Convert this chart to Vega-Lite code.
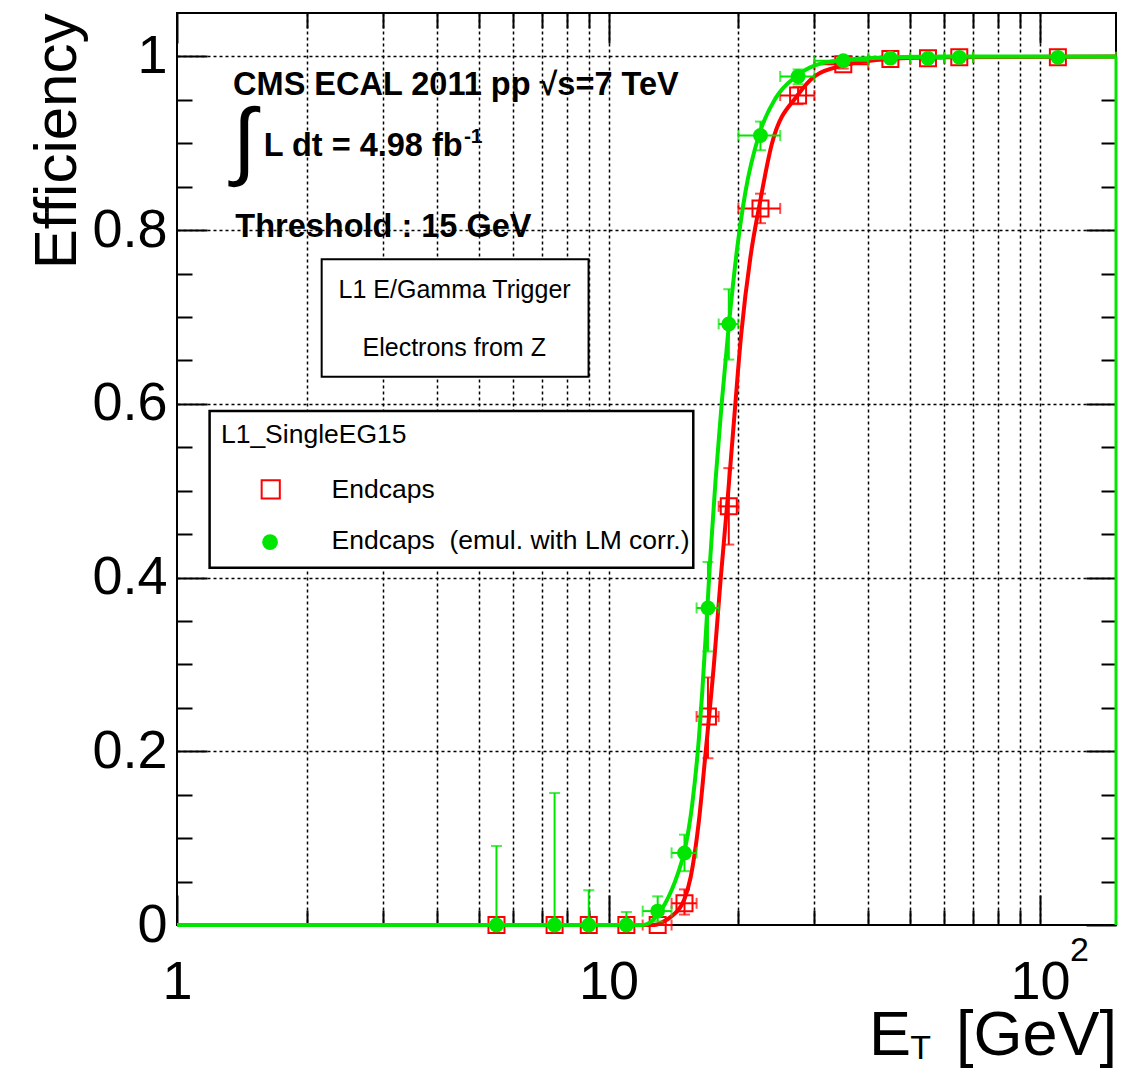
{
  "$schema": "https://vega.github.io/schema/vega-lite/v6.json",
  "width": 939,
  "height": 912,
  "autosize": {"type": "none"},
  "padding": {"left": 177, "top": 13, "right": 5, "bottom": 145},
  "background": "white",
  "config": {"view": {"stroke": "black", "strokeWidth": 2}, "font": "Liberation Sans"},
  "resolve": {"axis": {"x": "independent", "y": "independent"}},
  "datasets": {
    "pts": [
      {"s": "Endcaps", "et": 5.5, "eff": 0, "lo": 0, "hi": 0, "etLo": 5.5, "etHi": 5.5},
      {"s": "Endcaps", "et": 7.5, "eff": 0, "lo": 0, "hi": 0, "etLo": 7.5, "etHi": 7.5},
      {"s": "Endcaps", "et": 9, "eff": 0, "lo": 0, "hi": 0, "etLo": 9, "etHi": 9},
      {"s": "Endcaps", "et": 11, "eff": 0, "lo": 0, "hi": 0, "etLo": 11, "etHi": 11},
      {"s": "Endcaps", "et": 13, "eff": 0, "lo": 0, "hi": 0, "etLo": 12, "etHi": 14},
      {"s": "Endcaps", "et": 15, "eff": 0.025, "lo": 0.012, "hi": 0.041, "etLo": 14, "etHi": 16},
      {"s": "Endcaps", "et": 17, "eff": 0.24, "lo": 0.192, "hi": 0.285, "etLo": 16, "etHi": 18},
      {"s": "Endcaps", "et": 19, "eff": 0.482, "lo": 0.438, "hi": 0.526, "etLo": 18, "etHi": 20},
      {"s": "Endcaps", "et": 22.5, "eff": 0.825, "lo": 0.808, "hi": 0.842, "etLo": 20, "etHi": 25},
      {"s": "Endcaps", "et": 27.5, "eff": 0.955, "lo": 0.945, "hi": 0.965, "etLo": 25, "etHi": 30},
      {"s": "Endcaps", "et": 35, "eff": 0.991, "lo": 0.986, "hi": 0.995, "etLo": 30, "etHi": 40},
      {"s": "Endcaps", "et": 45, "eff": 0.997, "lo": 0.994, "hi": 0.999, "etLo": 40, "etHi": 50},
      {"s": "Endcaps", "et": 55, "eff": 0.998, "lo": 0.996, "hi": 0.999, "etLo": 50, "etHi": 60},
      {"s": "Endcaps", "et": 65, "eff": 0.999, "lo": 0.997, "hi": 1.0, "etLo": 60, "etHi": 70},
      {"s": "Endcaps", "et": 110, "eff": 0.999, "lo": 0.997, "hi": 1.0, "etLo": 70, "etHi": 150},
      {"s": "Emul", "et": 5.5, "eff": 0, "lo": 0, "hi": 0.091, "etLo": 5.5, "etHi": 5.5},
      {"s": "Emul", "et": 7.5, "eff": 0, "lo": 0, "hi": 0.152, "etLo": 7.5, "etHi": 7.5},
      {"s": "Emul", "et": 9, "eff": 0, "lo": 0, "hi": 0.04, "etLo": 9, "etHi": 9},
      {"s": "Emul", "et": 11, "eff": 0, "lo": 0, "hi": 0.015, "etLo": 11, "etHi": 11},
      {"s": "Emul", "et": 13, "eff": 0.016, "lo": 0.004, "hi": 0.033, "etLo": 12, "etHi": 14},
      {"s": "Emul", "et": 15, "eff": 0.083, "lo": 0.062, "hi": 0.104, "etLo": 14, "etHi": 16},
      {"s": "Emul", "et": 17, "eff": 0.365, "lo": 0.315, "hi": 0.418, "etLo": 16, "etHi": 18},
      {"s": "Emul", "et": 19, "eff": 0.692, "lo": 0.651, "hi": 0.732, "etLo": 18, "etHi": 20},
      {"s": "Emul", "et": 22.5, "eff": 0.909, "lo": 0.892, "hi": 0.925, "etLo": 20, "etHi": 25},
      {"s": "Emul", "et": 27.5, "eff": 0.977, "lo": 0.968, "hi": 0.985, "etLo": 25, "etHi": 30},
      {"s": "Emul", "et": 35, "eff": 0.995, "lo": 0.991, "hi": 0.998, "etLo": 30, "etHi": 40},
      {"s": "Emul", "et": 45, "eff": 0.998, "lo": 0.996, "hi": 1.0, "etLo": 40, "etHi": 50},
      {"s": "Emul", "et": 55, "eff": 0.998, "lo": 0.996, "hi": 1.0, "etLo": 50, "etHi": 60},
      {"s": "Emul", "et": 65, "eff": 0.999, "lo": 0.997, "hi": 1.0, "etLo": 60, "etHi": 70},
      {"s": "Emul", "et": 110, "eff": 0.999, "lo": 0.997, "hi": 1.0, "etLo": 70, "etHi": 150}
    ],
    "curves": [
      {"s": "Endcaps", "et": 1, "eff": 0},
      {"s": "Endcaps", "et": 12.8, "eff": 0},
      {"s": "Endcaps", "et": 13.3, "eff": 0.003},
      {"s": "Endcaps", "et": 14, "eff": 0.01},
      {"s": "Endcaps", "et": 15, "eff": 0.03},
      {"s": "Endcaps", "et": 15.5, "eff": 0.055},
      {"s": "Endcaps", "et": 16.2, "eff": 0.12},
      {"s": "Endcaps", "et": 16.8, "eff": 0.2},
      {"s": "Endcaps", "et": 17.55, "eff": 0.3},
      {"s": "Endcaps", "et": 18.19, "eff": 0.398},
      {"s": "Endcaps", "et": 18.88, "eff": 0.49},
      {"s": "Endcaps", "et": 19.53, "eff": 0.58},
      {"s": "Endcaps", "et": 20.3, "eff": 0.68},
      {"s": "Endcaps", "et": 21.34, "eff": 0.77},
      {"s": "Endcaps", "et": 22.4, "eff": 0.83},
      {"s": "Endcaps", "et": 23.93, "eff": 0.9},
      {"s": "Endcaps", "et": 27.4, "eff": 0.955},
      {"s": "Endcaps", "et": 30.2, "eff": 0.978},
      {"s": "Endcaps", "et": 35.3, "eff": 0.99},
      {"s": "Endcaps", "et": 45, "eff": 0.997},
      {"s": "Endcaps", "et": 60, "eff": 0.999},
      {"s": "Endcaps", "et": 150, "eff": 1},
      {"s": "Emul", "et": 1, "eff": 0},
      {"s": "Emul", "et": 12, "eff": 0},
      {"s": "Emul", "et": 12.5, "eff": 0.003},
      {"s": "Emul", "et": 13, "eff": 0.012},
      {"s": "Emul", "et": 13.5, "eff": 0.024},
      {"s": "Emul", "et": 14, "eff": 0.04},
      {"s": "Emul", "et": 14.5, "eff": 0.06},
      {"s": "Emul", "et": 15, "eff": 0.085},
      {"s": "Emul", "et": 15.64, "eff": 0.14},
      {"s": "Emul", "et": 16.2, "eff": 0.215},
      {"s": "Emul", "et": 16.5, "eff": 0.27},
      {"s": "Emul", "et": 16.88, "eff": 0.35},
      {"s": "Emul", "et": 17.2, "eff": 0.42},
      {"s": "Emul", "et": 17.71, "eff": 0.513},
      {"s": "Emul", "et": 18.29, "eff": 0.6},
      {"s": "Emul", "et": 19, "eff": 0.69},
      {"s": "Emul", "et": 19.88, "eff": 0.78},
      {"s": "Emul", "et": 20.78, "eff": 0.845},
      {"s": "Emul", "et": 22.3, "eff": 0.909},
      {"s": "Emul", "et": 24.4, "eff": 0.952},
      {"s": "Emul", "et": 27.2, "eff": 0.977},
      {"s": "Emul", "et": 30.2, "eff": 0.99},
      {"s": "Emul", "et": 35, "eff": 0.996},
      {"s": "Emul", "et": 45, "eff": 0.999},
      {"s": "Emul", "et": 60, "eff": 1},
      {"s": "Emul", "et": 150, "eff": 1}
    ]
  },
  "layer": [
    {
      "data": {"name": "pts"},
      "transform": [{"filter": "datum.s == 'Endcaps'"}],
      "mark": {"type": "rule", "color": "#ff0000", "strokeWidth": 2},
      "encoding": {
        "x": {"field": "et", "type": "quantitative", "scale": {"type": "log", "domain": [1, 150], "nice": false},
          "axis": {"orient": "bottom", "values": [2, 3, 4, 5, 6, 7, 8, 9, 10, 20, 30, 40, 50, 60, 70, 80, 90, 100], "grid": true, "gridColor": "black", "gridDash": [3, 3], "gridWidth": 1.5, "gridOpacity": 1, "labels": false, "ticks": false, "domain": false, "title": null}},
        "y": {"field": "lo", "type": "quantitative", "scale": {"domain": [0, 1.05], "nice": false, "zero": false},
          "axis": {"orient": "left", "values": [0.2, 0.4, 0.6, 0.8, 1], "grid": true, "gridColor": "black", "gridDash": [3, 3], "gridWidth": 1.5, "gridOpacity": 1, "labels": false, "ticks": false, "domain": false, "title": null}},
        "y2": {"field": "hi"}
      }
    },
    {
      "data": {"name": "pts"},
      "transform": [{"filter": "datum.s == 'Endcaps'"}],
      "mark": {"type": "rule", "color": "#ff0000", "strokeWidth": 2},
      "encoding": {
        "x": {"field": "etLo", "type": "quantitative", "scale": {"type": "log", "domain": [1, 150], "nice": false},
          "axis": {"orient": "bottom", "values": [1, 10, 100], "labelExpr": "datum.value == 1 ? '1' : '10'", "grid": false, "ticks": false, "domain": false, "title": null, "labelFont": "Liberation Sans", "labelFontSize": 54, "labelColor": "black", "labelPadding": 30, "labelFlush": false, "labelOverlap": false, "labelBound": false}},
        "x2": {"field": "etHi"},
        "y": {"field": "eff", "type": "quantitative", "scale": {"domain": [0, 1.05], "nice": false, "zero": false},
          "axis": {"orient": "left", "values": [0, 0.2, 0.4, 0.6, 0.8, 1], "labelExpr": "datum.value == 0 ? '0' : datum.value == 1 ? '1' : format(datum.value, '.1f')", "grid": false, "ticks": false, "domain": false, "labelFont": "Liberation Sans", "labelFontSize": 54, "labelColor": "black", "labelPadding": 10, "labelOverlap": false, "labelBound": false, "labelFlush": false,
            "title": "Efficiency", "titleFont": "Liberation Sans", "titleFontSize": 60, "titleFontWeight": "normal", "titleColor": "black", "titleAnchor": "end", "titleAngle": 270, "titleAlign": "right", "titleBaseline": "bottom", "titleX": -89, "titleY": 0}}
      }
    },
    {
      "data": {"name": "pts"},
      "transform": [{"filter": "datum.s == 'Endcaps' && datum.hi > datum.lo"}],
      "mark": {"type": "tick", "orient": "horizontal", "color": "#ff0000", "size": 11, "thickness": 2},
      "encoding": {
        "x": {"field": "et", "type": "quantitative", "scale": {"type": "log", "domain": [1, 150], "nice": false},
          "axis": {"orient": "bottom", "values": [1, 10, 100], "tickSize": -30, "tickColor": "black", "tickWidth": 2, "labels": false, "grid": false, "domain": false, "title": null}},
        "y": {"field": "hi", "type": "quantitative", "scale": {"domain": [0, 1.05], "nice": false, "zero": false},
          "axis": {"orient": "left", "values": [0, 0.2, 0.4, 0.6, 0.8, 1], "tickSize": -30, "tickColor": "black", "tickWidth": 2, "labels": false, "grid": false, "domain": false, "title": null}}
      }
    },
    {
      "data": {"name": "pts"},
      "transform": [{"filter": "datum.s == 'Endcaps' && datum.hi > datum.lo"}],
      "mark": {"type": "tick", "orient": "horizontal", "color": "#ff0000", "size": 11, "thickness": 2},
      "encoding": {
        "x": {"field": "et", "type": "quantitative", "scale": {"type": "log", "domain": [1, 150], "nice": false},
          "axis": {"orient": "bottom", "values": [2, 3, 4, 5, 6, 7, 8, 9, 20, 30, 40, 50, 60, 70, 80, 90], "tickSize": -15, "tickColor": "black", "tickWidth": 2, "labels": false, "grid": false, "domain": false, "title": null}},
        "y": {"field": "lo", "type": "quantitative", "scale": {"domain": [0, 1.05], "nice": false, "zero": false},
          "axis": {"orient": "left", "values": [0.05, 0.1, 0.15, 0.25, 0.3, 0.35, 0.45, 0.5, 0.55, 0.65, 0.7, 0.75, 0.85, 0.9, 0.95], "tickSize": -15, "tickColor": "black", "tickWidth": 2, "labels": false, "grid": false, "domain": false, "title": null}}
      }
    },
    {
      "data": {"name": "pts"},
      "transform": [{"filter": "datum.s == 'Endcaps' && datum.etHi > datum.etLo"}],
      "mark": {"type": "tick", "orient": "vertical", "color": "#ff0000", "size": 11, "thickness": 2},
      "encoding": {
        "x": {"field": "etLo", "type": "quantitative", "scale": {"type": "log", "domain": [1, 150], "nice": false},
          "axis": {"orient": "top", "values": [1, 10, 100], "tickSize": -30, "tickColor": "black", "tickWidth": 2, "labels": false, "grid": false, "domain": false, "title": null}},
        "y": {"field": "eff", "type": "quantitative", "scale": {"domain": [0, 1.05], "nice": false, "zero": false},
          "axis": {"orient": "right", "values": [0, 0.2, 0.4, 0.6, 0.8, 1], "tickSize": -30, "tickColor": "black", "tickWidth": 2, "labels": false, "grid": false, "domain": false, "title": null}}
      }
    },
    {
      "data": {"name": "pts"},
      "transform": [{"filter": "datum.s == 'Endcaps' && datum.etHi > datum.etLo"}],
      "mark": {"type": "tick", "orient": "vertical", "color": "#ff0000", "size": 11, "thickness": 2},
      "encoding": {
        "x": {"field": "etHi", "type": "quantitative", "scale": {"type": "log", "domain": [1, 150], "nice": false},
          "axis": {"orient": "top", "values": [2, 3, 4, 5, 6, 7, 8, 9, 20, 30, 40, 50, 60, 70, 80, 90], "tickSize": -15, "tickColor": "black", "tickWidth": 2, "labels": false, "grid": false, "domain": false, "title": null}},
        "y": {"field": "eff", "type": "quantitative", "scale": {"domain": [0, 1.05], "nice": false, "zero": false},
          "axis": {"orient": "right", "values": [0.05, 0.1, 0.15, 0.25, 0.3, 0.35, 0.45, 0.5, 0.55, 0.65, 0.7, 0.75, 0.85, 0.9, 0.95], "tickSize": -15, "tickColor": "black", "tickWidth": 2, "labels": false, "grid": false, "domain": false, "title": null}}
      }
    },
    {
      "data": {"name": "pts"},
      "transform": [{"filter": "datum.s == 'Endcaps'"}],
      "mark": {"type": "point", "shape": "square", "filled": false, "color": "#ff0000", "strokeWidth": 2, "size": 256, "opacity": 1},
      "encoding": {
        "x": {"field": "et", "type": "quantitative", "scale": {"type": "log", "domain": [1, 150], "nice": false}, "axis": null},
        "y": {"field": "eff", "type": "quantitative", "scale": {"domain": [0, 1.05], "nice": false, "zero": false}, "axis": null}
      }
    },
    {
      "data": {"name": "curves"},
      "transform": [{"filter": "datum.s == 'Endcaps'"}],
      "mark": {"type": "line", "color": "#ff0000", "strokeWidth": 4, "interpolate": "monotone"},
      "encoding": {
        "x": {"field": "et", "type": "quantitative", "scale": {"type": "log", "domain": [1, 150], "nice": false}, "axis": null},
        "y": {"field": "eff", "type": "quantitative", "scale": {"domain": [0, 1.05], "nice": false, "zero": false}, "axis": null}
      }
    },
    {
      "data": {"name": "pts"},
      "transform": [{"filter": "datum.s == 'Emul'"}],
      "mark": {"type": "rule", "color": "#00e600", "strokeWidth": 2},
      "encoding": {
        "x": {"field": "et", "type": "quantitative", "scale": {"type": "log", "domain": [1, 150], "nice": false}, "axis": null},
        "y": {"field": "lo", "type": "quantitative", "scale": {"domain": [0, 1.05], "nice": false, "zero": false}, "axis": null},
        "y2": {"field": "hi"}
      }
    },
    {
      "data": {"name": "pts"},
      "transform": [{"filter": "datum.s == 'Emul'"}],
      "mark": {"type": "rule", "color": "#00e600", "strokeWidth": 2},
      "encoding": {
        "x": {"field": "etLo", "type": "quantitative", "scale": {"type": "log", "domain": [1, 150], "nice": false}, "axis": null},
        "x2": {"field": "etHi"},
        "y": {"field": "eff", "type": "quantitative", "scale": {"domain": [0, 1.05], "nice": false, "zero": false}, "axis": null}
      }
    },
    {
      "data": {"name": "pts"},
      "transform": [{"filter": "datum.s == 'Emul' && datum.hi > datum.lo"}],
      "mark": {"type": "tick", "orient": "horizontal", "color": "#00e600", "size": 11, "thickness": 2},
      "encoding": {
        "x": {"field": "et", "type": "quantitative", "scale": {"type": "log", "domain": [1, 150], "nice": false}, "axis": null},
        "y": {"field": "hi", "type": "quantitative", "scale": {"domain": [0, 1.05], "nice": false, "zero": false}, "axis": null}
      }
    },
    {
      "data": {"name": "pts"},
      "transform": [{"filter": "datum.s == 'Emul' && datum.hi > datum.lo"}],
      "mark": {"type": "tick", "orient": "horizontal", "color": "#00e600", "size": 11, "thickness": 2},
      "encoding": {
        "x": {"field": "et", "type": "quantitative", "scale": {"type": "log", "domain": [1, 150], "nice": false}, "axis": null},
        "y": {"field": "lo", "type": "quantitative", "scale": {"domain": [0, 1.05], "nice": false, "zero": false}, "axis": null}
      }
    },
    {
      "data": {"name": "pts"},
      "transform": [{"filter": "datum.s == 'Emul' && datum.etHi > datum.etLo"}],
      "mark": {"type": "tick", "orient": "vertical", "color": "#00e600", "size": 11, "thickness": 2},
      "encoding": {
        "x": {"field": "etLo", "type": "quantitative", "scale": {"type": "log", "domain": [1, 150], "nice": false}, "axis": null},
        "y": {"field": "eff", "type": "quantitative", "scale": {"domain": [0, 1.05], "nice": false, "zero": false}, "axis": null}
      }
    },
    {
      "data": {"name": "pts"},
      "transform": [{"filter": "datum.s == 'Emul' && datum.etHi > datum.etLo"}],
      "mark": {"type": "tick", "orient": "vertical", "color": "#00e600", "size": 11, "thickness": 2},
      "encoding": {
        "x": {"field": "etHi", "type": "quantitative", "scale": {"type": "log", "domain": [1, 150], "nice": false}, "axis": null},
        "y": {"field": "eff", "type": "quantitative", "scale": {"domain": [0, 1.05], "nice": false, "zero": false}, "axis": null}
      }
    },
    {
      "data": {"name": "pts"},
      "transform": [{"filter": "datum.s == 'Emul'"}],
      "mark": {"type": "point", "shape": "circle", "filled": true, "color": "#00e600", "size": 220, "opacity": 1},
      "encoding": {
        "x": {"field": "et", "type": "quantitative", "scale": {"type": "log", "domain": [1, 150], "nice": false}, "axis": null},
        "y": {"field": "eff", "type": "quantitative", "scale": {"domain": [0, 1.05], "nice": false, "zero": false}, "axis": null}
      }
    },
    {
      "data": {"name": "curves"},
      "transform": [{"filter": "datum.s == 'Emul'"}],
      "mark": {"type": "line", "color": "#00e600", "strokeWidth": 4, "interpolate": "monotone"},
      "encoding": {
        "x": {"field": "et", "type": "quantitative", "scale": {"type": "log", "domain": [1, 150], "nice": false}, "axis": null},
        "y": {"field": "eff", "type": "quantitative", "scale": {"domain": [0, 1.05], "nice": false, "zero": false}, "axis": null}
      }
    },
    {
      "data": {"values": [{}]},
      "mark": {"type": "rule", "color": "#00e600", "strokeWidth": 3},
      "encoding": {
        "x": {"datum": 150, "type": "quantitative", "scale": {"type": "log", "domain": [1, 150], "nice": false}, "axis": null},
        "y": {"datum": 0, "type": "quantitative", "scale": {"domain": [0, 1.05], "nice": false, "zero": false}, "axis": null},
        "y2": {"datum": 1}
      }
    },
    {
      "data": {"values": [{}]},
      "mark": {"type": "text", "align": "left", "baseline": "alphabetic", "font": "Liberation Sans", "fontSize": 32.5, "fontWeight": "bold", "color": "black"},
      "encoding": {
        "x": {"datum": 1.349, "type": "quantitative", "scale": {"type": "log", "domain": [1, 150], "nice": false}, "axis": null},
        "y": {"datum": 0.9558, "type": "quantitative", "scale": {"domain": [0, 1.05], "nice": false, "zero": false}, "axis": null},
        "text": {"value": "CMS ECAL 2011 pp √s=7 TeV"}
      }
    },
    {
      "data": {"values": [{}]},
      "mark": {"type": "text", "align": "left", "baseline": "alphabetic", "font": "Liberation Sans", "fontSize": 86, "fontWeight": "normal", "color": "black"},
      "encoding": {
        "x": {"datum": 1.345, "type": "quantitative", "scale": {"type": "log", "domain": [1, 150], "nice": false}, "axis": null},
        "y": {"datum": 0.8705, "type": "quantitative", "scale": {"domain": [0, 1.05], "nice": false, "zero": false}, "axis": null},
        "text": {"value": "∫"}
      }
    },
    {
      "data": {"values": [{}]},
      "mark": {"type": "text", "align": "left", "baseline": "alphabetic", "font": "Liberation Sans", "fontSize": 32.5, "fontWeight": "bold", "color": "black"},
      "encoding": {
        "x": {"datum": 1.588, "type": "quantitative", "scale": {"type": "log", "domain": [1, 150], "nice": false}, "axis": null},
        "y": {"datum": 0.8851, "type": "quantitative", "scale": {"domain": [0, 1.05], "nice": false, "zero": false}, "axis": null},
        "text": {"value": "L dt = 4.98 fb"}
      }
    },
    {
      "data": {"values": [{}]},
      "mark": {"type": "text", "align": "left", "baseline": "alphabetic", "font": "Liberation Sans", "fontSize": 21, "fontWeight": "bold", "color": "black"},
      "encoding": {
        "x": {"datum": 4.622, "type": "quantitative", "scale": {"type": "log", "domain": [1, 150], "nice": false}, "axis": null},
        "y": {"datum": 0.9001, "type": "quantitative", "scale": {"domain": [0, 1.05], "nice": false, "zero": false}, "axis": null},
        "text": {"value": "-1"}
      }
    },
    {
      "data": {"values": [{}]},
      "mark": {"type": "text", "align": "left", "baseline": "alphabetic", "font": "Liberation Sans", "fontSize": 32.5, "fontWeight": "bold", "color": "black"},
      "encoding": {
        "x": {"datum": 1.365, "type": "quantitative", "scale": {"type": "log", "domain": [1, 150], "nice": false}, "axis": null},
        "y": {"datum": 0.7924, "type": "quantitative", "scale": {"domain": [0, 1.05], "nice": false, "zero": false}, "axis": null},
        "text": {"value": "Threshold : 15 GeV"}
      }
    },
    {
      "data": {"values": [{}]},
      "mark": {"type": "rect", "fill": "white", "stroke": "black", "strokeWidth": 2},
      "encoding": {
        "x": {"datum": 2.164, "type": "quantitative", "scale": {"type": "log", "domain": [1, 150], "nice": false}, "axis": null},
        "x2": {"datum": 8.99},
        "y": {"datum": 0.6313, "type": "quantitative", "scale": {"domain": [0, 1.05], "nice": false, "zero": false}, "axis": null},
        "y2": {"datum": 0.7665}
      }
    },
    {
      "data": {"values": [{}]},
      "mark": {"type": "text", "align": "center", "baseline": "alphabetic", "font": "Liberation Sans", "fontSize": 25, "color": "black"},
      "encoding": {
        "x": {"datum": 4.399, "type": "quantitative", "scale": {"type": "log", "domain": [1, 150], "nice": false}, "axis": null},
        "y": {"datum": 0.7224, "type": "quantitative", "scale": {"domain": [0, 1.05], "nice": false, "zero": false}, "axis": null},
        "text": {"value": "L1 E/Gamma Trigger"}
      }
    },
    {
      "data": {"values": [{}]},
      "mark": {"type": "text", "align": "center", "baseline": "alphabetic", "font": "Liberation Sans", "fontSize": 25, "color": "black"},
      "encoding": {
        "x": {"datum": 4.39, "type": "quantitative", "scale": {"type": "log", "domain": [1, 150], "nice": false}, "axis": null},
        "y": {"datum": 0.6551, "type": "quantitative", "scale": {"domain": [0, 1.05], "nice": false, "zero": false}, "axis": null},
        "text": {"value": "Electrons from Z"}
      }
    },
    {
      "data": {"values": [{}]},
      "mark": {"type": "rect", "fill": "white", "stroke": "black", "strokeWidth": 2.5},
      "encoding": {
        "x": {"datum": 1.19, "type": "quantitative", "scale": {"type": "log", "domain": [1, 150], "nice": false}, "axis": null},
        "x2": {"datum": 15.72},
        "y": {"datum": 0.4113, "type": "quantitative", "scale": {"domain": [0, 1.05], "nice": false, "zero": false}, "axis": null},
        "y2": {"datum": 0.5917}
      }
    },
    {
      "data": {"values": [{}]},
      "mark": {"type": "text", "align": "left", "baseline": "alphabetic", "font": "Liberation Sans", "fontSize": 26.5, "color": "black"},
      "encoding": {
        "x": {"datum": 1.264, "type": "quantitative", "scale": {"type": "log", "domain": [1, 150], "nice": false}, "axis": null},
        "y": {"datum": 0.5553, "type": "quantitative", "scale": {"domain": [0, 1.05], "nice": false, "zero": false}, "axis": null},
        "text": {"value": "L1_SingleEG15"}
      }
    },
    {
      "data": {"values": [{}]},
      "mark": {"type": "point", "shape": "square", "filled": false, "color": "#ff0000", "strokeWidth": 2, "size": 330, "opacity": 1},
      "encoding": {
        "x": {"datum": 1.649, "type": "quantitative", "scale": {"type": "log", "domain": [1, 150], "nice": false}, "axis": null},
        "y": {"datum": 0.5015, "type": "quantitative", "scale": {"domain": [0, 1.05], "nice": false, "zero": false}, "axis": null}
      }
    },
    {
      "data": {"values": [{}]},
      "mark": {"type": "point", "shape": "circle", "filled": true, "color": "#00e600", "size": 246, "opacity": 1},
      "encoding": {
        "x": {"datum": 1.643, "type": "quantitative", "scale": {"type": "log", "domain": [1, 150], "nice": false}, "axis": null},
        "y": {"datum": 0.4408, "type": "quantitative", "scale": {"domain": [0, 1.05], "nice": false, "zero": false}, "axis": null}
      }
    },
    {
      "data": {"values": [{}]},
      "mark": {"type": "text", "align": "left", "baseline": "alphabetic", "font": "Liberation Sans", "fontSize": 26.5, "color": "black"},
      "encoding": {
        "x": {"datum": 2.282, "type": "quantitative", "scale": {"type": "log", "domain": [1, 150], "nice": false}, "axis": null},
        "y": {"datum": 0.4919, "type": "quantitative", "scale": {"domain": [0, 1.05], "nice": false, "zero": false}, "axis": null},
        "text": {"value": "Endcaps"}
      }
    },
    {
      "data": {"values": [{}]},
      "mark": {"type": "text", "align": "left", "baseline": "alphabetic", "font": "Liberation Sans", "fontSize": 26.5, "color": "black"},
      "encoding": {
        "x": {"datum": 2.282, "type": "quantitative", "scale": {"type": "log", "domain": [1, 150], "nice": false}, "axis": null},
        "y": {"datum": 0.4324, "type": "quantitative", "scale": {"domain": [0, 1.05], "nice": false, "zero": false}, "axis": null},
        "text": {"value": "Endcaps \u00a0(emul. with LM corr.)"}
      }
    },
    {
      "data": {"values": [{}]},
      "mark": {"type": "text", "align": "left", "baseline": "alphabetic", "font": "Liberation Sans", "fontSize": 34, "color": "black", "dx": 30, "dy": 36},
      "encoding": {
        "x": {"datum": 100, "type": "quantitative", "scale": {"type": "log", "domain": [1, 150], "nice": false}, "axis": null},
        "y": {"datum": 0, "type": "quantitative", "scale": {"domain": [0, 1.05], "nice": false, "zero": false}, "axis": null},
        "text": {"value": "2"}
      }
    },
    {
      "data": {"values": [{}]},
      "mark": {"type": "text", "align": "right", "baseline": "alphabetic", "font": "Liberation Sans", "fontSize": 63, "color": "black", "dx": 1, "dy": 130},
      "encoding": {
        "x": {"datum": 150, "type": "quantitative", "scale": {"type": "log", "domain": [1, 150], "nice": false}, "axis": null},
        "y": {"datum": 0, "type": "quantitative", "scale": {"domain": [0, 1.05], "nice": false, "zero": false}, "axis": null},
        "text": {"value": "[GeV]"}
      }
    },
    {
      "data": {"values": [{}]},
      "mark": {"type": "text", "align": "right", "baseline": "alphabetic", "font": "Liberation Sans", "fontSize": 34, "color": "black", "dx": -185, "dy": 134},
      "encoding": {
        "x": {"datum": 150, "type": "quantitative", "scale": {"type": "log", "domain": [1, 150], "nice": false}, "axis": null},
        "y": {"datum": 0, "type": "quantitative", "scale": {"domain": [0, 1.05], "nice": false, "zero": false}, "axis": null},
        "text": {"value": "T"}
      }
    },
    {
      "data": {"values": [{}]},
      "mark": {"type": "text", "align": "right", "baseline": "alphabetic", "font": "Liberation Sans", "fontSize": 63, "color": "black", "dx": -205, "dy": 130},
      "encoding": {
        "x": {"datum": 150, "type": "quantitative", "scale": {"type": "log", "domain": [1, 150], "nice": false}, "axis": null},
        "y": {"datum": 0, "type": "quantitative", "scale": {"domain": [0, 1.05], "nice": false, "zero": false}, "axis": null},
        "text": {"value": "E"}
      }
    }
  ]
}
